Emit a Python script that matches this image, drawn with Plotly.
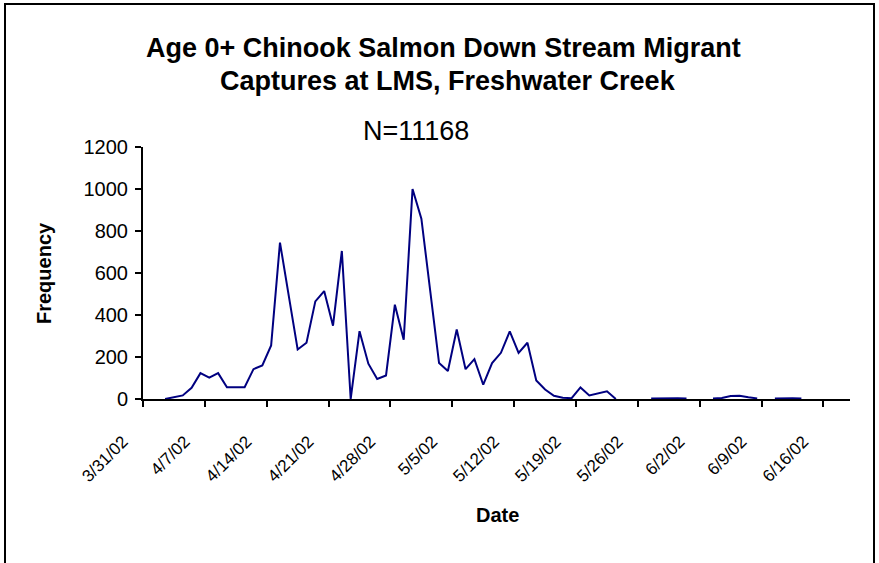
import plotly.graph_objects as go
import pandas as pd

# ---- data ----
start_date = "2002-03-31"
frequency = [None, None, 0, 8, 17, 53, 123, 102, 123, 56,
             56, 56, 142, 160, 255, 745, 490, 236, 268, 465,
             514, 349, 705, 0, 323, 168, 95, 112, 449, 282,
             1000, 859, 515, 171, 133, 331, 142, 190, 68, 171,
             220, 322, 220, 268, 88, 45, 15, 6, 4, 55,
             17, 27, 37, 0, None, None, None, 2, 3, 3,
             3, 2, None, None, 2, 5, 14, 15, 8, 3,
             None, 2, 4, 4, 2, None, None, None, None, None]
tick_dates = ["2002-03-31", "2002-04-07", "2002-04-14", "2002-04-21", "2002-04-28",
              "2002-05-05", "2002-05-12", "2002-05-19", "2002-05-26", "2002-06-02",
              "2002-06-09", "2002-06-16"]
tick_labels = ["3/31/02", "4/7/02", "4/14/02", "4/21/02", "4/28/02", "5/5/02",
               "5/12/02", "5/19/02", "5/26/02", "6/2/02", "6/9/02", "6/16/02"]
y_ticks = [0, 200, 400, 600, 800, 1000, 1200]

title_1 = "Age 0+ Chinook Salmon Down Stream Migrant"
title_2 = "Captures at LMS, Freshwater Creek"
subtitle = "N=11168"

# daily points are drawn in the middle of each day slot
dates = pd.date_range(start_date, periods=len(frequency), freq="D") + pd.Timedelta(hours=12)

W, H = 879, 563
ML, MR, MT, MB = 143, 29, 147, 164
PW, PH = W - ML - MR, H - MT - MB

def px(x):
    return (x - ML) / PW

def py(y):
    return (H - MB - y) / PH

FONT = "Arial, Liberation Sans, sans-serif"

fig = go.Figure()
fig.add_trace(go.Scatter(
    x=dates, y=frequency, mode="lines",
    line=dict(color="#000080", width=2),
    connectgaps=False, showlegend=False,
))

fig.update_layout(
    width=W, height=H,
    margin=dict(l=ML, r=MR, t=MT, b=MB),
    paper_bgcolor="white", plot_bgcolor="white",
    font=dict(family=FONT, color="black"),
    xaxis=dict(
        type="date",
        range=["2002-03-31", "2002-06-19"],
        tickmode="array", tickvals=tick_dates, ticktext=tick_labels,
        tickangle=-45, tickfont=dict(size=17, family=FONT),
        ticks="outside", ticklen=6, tickwidth=2, tickcolor="black",
        showline=True, linecolor="black", linewidth=2,
        showgrid=False, zeroline=False,
        ticklabelshift=-20, ticklabelstandoff=18,
    ),
    yaxis=dict(
        range=[0, 1200],
        tickmode="array", tickvals=y_ticks,
        tickfont=dict(size=20, family=FONT),
        ticks="outside", ticklen=6, tickwidth=2, tickcolor="black",
        showline=True, linecolor="black", linewidth=2,
        showgrid=False, zeroline=False, ticklabelstandoff=3,
    ),
    shapes=[dict(type="rect", xref="paper", yref="paper",
                 x0=px(5), x1=px(874), y0=py(580), y1=py(4),
                 line=dict(color="black", width=2), fillcolor="rgba(0,0,0,0)",
                 layer="below")],
    annotations=[
        dict(text="<b>" + title_1 + "</b>", x=px(443), y=py(48), xref="paper", yref="paper",
             showarrow=False, xanchor="center", yanchor="middle", font=dict(size=27, family=FONT)),
        dict(text="<b>" + title_2 + "</b>", x=px(448), y=py(81), xref="paper", yref="paper",
             showarrow=False, xanchor="center", yanchor="middle", font=dict(size=27, family=FONT)),
        dict(text=subtitle, x=px(416), y=py(131), xref="paper", yref="paper",
             showarrow=False, xanchor="center", yanchor="middle", font=dict(size=27, family=FONT)),
        dict(text="<b>Frequency</b>", x=px(44), y=py(273), xref="paper", yref="paper",
             showarrow=False, xanchor="center", yanchor="middle", textangle=-90,
             font=dict(size=20, family=FONT)),
        dict(text="<b>Date</b>", x=px(497), y=py(515), xref="paper", yref="paper",
             showarrow=False, xanchor="center", yanchor="middle", font=dict(size=20, family=FONT)),
    ],
)

fig.write_html(
    "out.html",
    config={"displayModeBar": False},
    post_script="document.body.style.margin='0';document.body.style.overflow='hidden';",
)
